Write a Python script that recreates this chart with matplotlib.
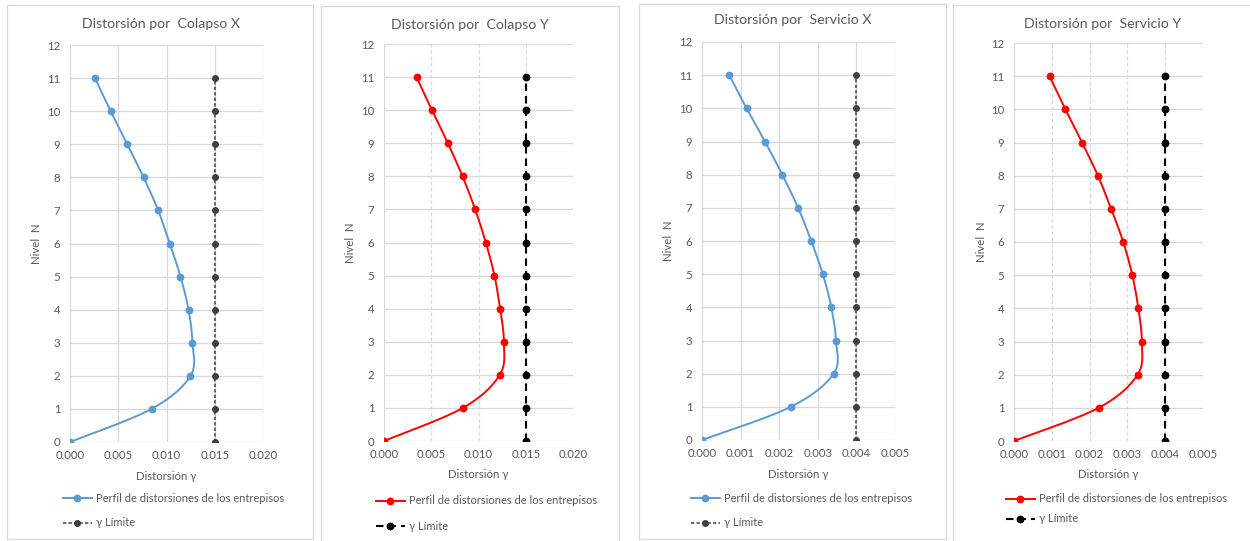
import numpy as np
import matplotlib
matplotlib.use("Agg")
import matplotlib.pyplot as plt
from matplotlib.patches import Rectangle
from matplotlib.lines import Line2D

# ---- data -------------------------------------------------------------
niveles = list(range(12))  # level 0 .. 11

colapso_x = [0.0, 0.00845, 0.01248, 0.01269, 0.01228, 0.01145,
             0.01034, 0.00914, 0.00762, 0.00593, 0.00421, 0.00259]
colapso_y = [0.0, 0.00835, 0.01225, 0.01268, 0.01229, 0.01169,
             0.01077, 0.00965, 0.00831, 0.00676, 0.00507, 0.00345]
servicio_x = [0.0, 0.00230, 0.00341, 0.00347, 0.00335, 0.00313,
              0.00283, 0.00249, 0.00208, 0.00163, 0.001155, 0.000707]
servicio_y = [0.0, 0.00224, 0.00327, 0.00338, 0.00329, 0.00313,
              0.00289, 0.00257, 0.00222, 0.00180, 0.00136, 0.000942]

limite_colapso = 0.015
limite_servicio = 0.004

titulos = ["Distorsión por  Colapso X", "Distorsión por  Colapso Y",
           "Distorsión por  Servicio X", "Distorsión por  Servicio Y"]
etiqueta_serie = "Perfil de distorsiones de los entrepisos"
etiqueta_limite = "γ Límite"
etiqueta_x = "Distorsión γ"
etiqueta_y = "Nivel  N"

ticks_colapso = [0.000, 0.005, 0.010, 0.015, 0.020]
ticks_servicio = [0.000, 0.001, 0.002, 0.003, 0.004, 0.005]

# ---- styling ----------------------------------------------------------
plt.rcParams['font.family'] = ['Lato', 'DejaVu Sans']
TXT = '#595959'
GRID = '#d9d9d9'
BLUE = '#5b9bd5'
RED = '#ff0000'

W, H = 1250, 541
fig = plt.figure(figsize=(W / 100, H / 100), dpi=100)
fig.patch.set_facecolor('white')


def fx(px):
    return px / W


def fy(py):
    return 1 - py / H


def smooth(ax, xs, ys, n=24):
    """Bezier smoothing (Catmull-Rom style) done in display space."""
    pts = ax.transData.transform(np.column_stack([xs, ys]))
    P = np.vstack([pts[0], pts, pts[-1]])
    out = [pts[0]]
    t = np.linspace(0, 1, n)[1:, None]
    for i in range(1, len(P) - 2):
        p0, p1, p2, p3 = P[i - 1], P[i], P[i + 1], P[i + 2]
        c1 = p1 + (p2 - p0) / 6
        c2 = p2 - (p3 - p1) / 6
        seg = ((1 - t) ** 3 * p1 + 3 * (1 - t) ** 2 * t * c1
               + 3 * (1 - t) * t ** 2 * c2 + t ** 3 * p2)
        out.extend(seg)
    out = ax.transData.inverted().transform(np.array(out))
    return out[:, 0], out[:, 1]


paneles = [
    dict(box=(7, 5, 313, 539), plot=(70, 45, 263, 442), serie=colapso_x,
         lim=limite_colapso, ticks=ticks_colapso, color=BLUE, estilo='gris',
         title_xy=(161, 24), xlabel_y=476, ylabel_x=37,
         leg=(63, 498, 523)),
    dict(box=(321, 6, 619, 545), plot=(384, 44, 573, 441), serie=colapso_y,
         lim=limite_colapso, ticks=ticks_colapso, color=RED, estilo='negro',
         title_xy=(470, 25), xlabel_y=474, ylabel_x=351,
         leg=(376, 501, 526)),
    dict(box=(639, 4, 946, 539), plot=(702, 42, 895, 440), serie=servicio_x,
         lim=limite_servicio, ticks=ticks_servicio, color=BLUE, estilo='gris',
         title_xy=(793, 20), xlabel_y=474, ylabel_x=669,
         leg=(691, 498, 523)),
    dict(box=(953, 5, 1255, 545), plot=(1014, 43, 1203, 441), serie=servicio_y,
         lim=limite_servicio, ticks=ticks_servicio, color=RED, estilo='negro',
         title_xy=(1103, 24), xlabel_y=475, ylabel_x=981,
         leg=(1006, 499, 519)),
]

for i, p in enumerate(paneles):
    # chart frame
    bx0, by0, bx1, by1 = p['box']
    fig.patches.append(Rectangle((fx(bx0), fy(by1)), fx(bx1 - bx0), (by1 - by0) / H,
                                 transform=fig.transFigure, facecolor='none',
                                 edgecolor=GRID, lw=0.9, zorder=0))

    x0, y0, x1, y1 = p['plot']
    ax = fig.add_axes([fx(x0), fy(y1), fx(x1 - x0), (y1 - y0) / H])
    ax.set_xlim(p['ticks'][0], p['ticks'][-1])
    ax.set_ylim(0, 12)
    ax.set_xticks(p['ticks'])
    ax.set_xticklabels([f"{v:.3f}" for v in p['ticks']])
    ax.set_yticks(range(13))
    for s in ax.spines.values():
        s.set_visible(False)
    ax.tick_params(length=0, labelsize=8.2, colors=TXT)
    ax.tick_params(axis='y', pad=7)
    ax.tick_params(axis='x', pad=6)

    # gridlines
    ax.set_axisbelow(True)
    for yv in range(13):
        ax.axhline(yv, color=GRID, lw=0.9, zorder=0)
    if p['estilo'] == 'gris':
        for xv in p['ticks']:
            ax.axvline(xv, color=GRID, lw=0.9, zorder=0)
    else:
        ax.axvline(p['ticks'][0], color=GRID, lw=0.9, zorder=0)
        for xv in p['ticks'][1:]:
            ax.axvline(xv, color=GRID, lw=0.9, ls=(0, (3, 2)), zorder=0)

    # distortion profile
    sx, sy = smooth(ax, p['serie'], niveles)
    ax.plot(sx, sy, color=p['color'], lw=1.4, zorder=3, solid_capstyle='round')
    ax.plot(p['serie'], niveles, ls='none', marker='o', ms=4.6,
            color=p['color'], zorder=4)

    # limit line
    lim_vals = [p['lim']] * len(niveles)
    if p['estilo'] == 'gris':
        lcol, ldash, llw, lms = '#404040', (0, (2.2, 1.4)), 1.1, 4.0
    else:
        lcol, ldash, llw, lms = '#000000', (0, (3.6, 2.4)), 1.5, 4.6
    ax.plot(lim_vals, niveles, color=lcol, ls=ldash, lw=llw, zorder=3)
    ax.plot(lim_vals, niveles, ls='none', marker='o', ms=lms, color=lcol, zorder=4)

    # texts
    fig.text(fx(p['title_xy'][0]), fy(p['title_xy'][1]), titulos[i],
             ha='center', va='center', fontsize=10.2, color=TXT)
    fig.text(fx((x0 + x1) / 2), fy(p['xlabel_y']), etiqueta_x,
             ha='center', va='center', fontsize=8.2, color=TXT)
    fig.text(fx(p['ylabel_x']), fy((y0 + y1) / 2), etiqueta_y, rotation=90,
             ha='center', va='center', fontsize=8.2, color=TXT)

    # legend: two rows placed individually
    h1 = Line2D([], [], color=p['color'], lw=1.4, marker='o', ms=4.6)
    h2 = Line2D([], [], color=lcol, lw=llw, ls=ldash, marker='o', ms=lms)
    lx, ly1, ly2 = p['leg']
    for h, lab, ly in ((h1, etiqueta_serie, ly1), (h2, etiqueta_limite, ly2)):
        leg = fig.legend([h], [lab], loc='center left',
                         bbox_to_anchor=(fx(lx), fy(ly)),
                         bbox_transform=fig.transFigure, frameon=False,
                         numpoints=1, fontsize=8.0, handlelength=2.6,
                         handletextpad=0.35, borderpad=0, borderaxespad=0)
        for t in leg.get_texts():
            t.set_color(TXT)

fig.savefig('out.png', dpi=100, facecolor='white')
